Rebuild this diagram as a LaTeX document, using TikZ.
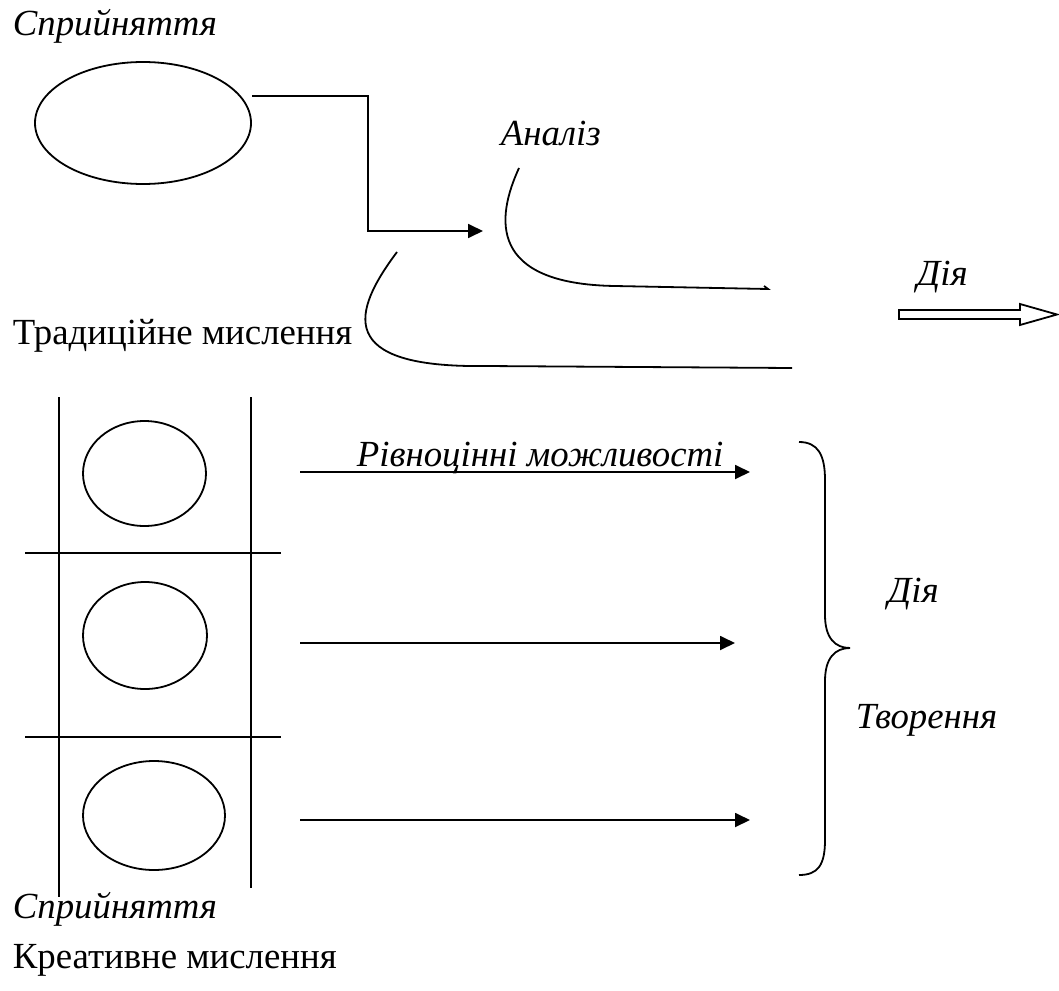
\documentclass[tikz,border=0pt]{standalone}
\usepackage{fontspec}
\setmainfont{Liberation Serif}
\usetikzlibrary{shapes.geometric,arrows.meta}
\tikzset{
  sprijn/.style={ellipse,draw,line width=0.9pt,inner sep=0pt},
  tip/.style={-{Triangle[length=7.5pt,width=7pt]},line width=0.9pt},
  lbl/.style={anchor=base west,inner sep=0pt,font=\fontsize{18.4}{22}\selectfont},
  ilbl/.style={lbl,font=\fontsize{18.4}{22}\selectfont\itshape},
}
\begin{document}
\begin{tikzpicture}[x=0.5pt,y=-0.5pt,line width=0.9pt]
	\useasboundingbox (0,0) rectangle (1059,990);
	\node (sprtop) at (12,36) [ilbl] {Сприйняття};
	\node (top) at (143,123) [sprijn,minimum width=108pt,minimum height=61pt] {};
	\node (analiz) at (500,146) [ilbl] {Аналіз};
	\node (diyatop) at (916,285) [ilbl] {Дія};
	\node (trad) at (12,344) [lbl] {Традиційне мислення};
	\coordinate (elbow) at (252,96);
	\coordinate (analizin) at (483,231);
	\draw [tip] (elbow) -- ++(116,0) |- (analizin);
	\coordinate (c1) at (519,168);
	\coordinate (c1end) at (768,289);
	\draw (c1) .. controls (496,218) and (488,284) .. (615,286) -- (c1end) -- ++(-4,-3);
	\coordinate (c2) at (397,252);
	\coordinate (c2end) at (792,368);
	\draw (c2) .. controls (352,312) and (335,368) .. (485,366) -- (c2end);
	\draw (899,310) -- (1020,310) -- (1020,304) -- (1057,314.5)
	  -- (1020,325) -- (1020,319) -- (899,319) -- cycle;
	\draw (59,397) -- (59,897);
	\draw (251,397) -- (251,888);
	\draw (25,553) -- (281,553);
	\draw (25,737) -- (281,737);
	\node (e1) at (144.5,473.5) [sprijn,minimum width=61.5pt,minimum height=52.5pt] {};
	\node (e2) at (145,635.5) [sprijn,minimum width=62pt,minimum height=53.5pt] {};
	\node (e3) at (154,815.5) [sprijn,minimum width=71pt,minimum height=54.5pt] {};
	\coordinate (a1) at (300,472); \coordinate (b1) at (750,472);
	\coordinate (a2) at (300,643); \coordinate (b2) at (735,643);
	\coordinate (a3) at (300,820); \coordinate (b3) at (750,820);
	\draw [tip] (a1) -- (b1);
	\draw [tip] (a2) -- (b2);
	\draw [tip] (a3) -- (b3);
	\node (rivn) at (356,466) [ilbl] {Рівноцінні можливості};
	\draw (799,442) .. controls (818,442) and (825,455) .. (825,480) -- (825,615)
	  .. controls (825,638) and (835,648) .. (850,648)
	  .. controls (835,648) and (825,658) .. (825,681) -- (825,840)
	  .. controls (825,865) and (818,875) .. (799,875);
	\node (diya) at (887,602) [ilbl] {Дія};
	\node (tvor) at (855,728) [ilbl] {Творення};
	\node (sprbot) at (12,918) [ilbl] {Сприйняття};
	\node (kreat) at (12,968) [lbl] {Креативне мислення};
\end{tikzpicture}
\end{document}
